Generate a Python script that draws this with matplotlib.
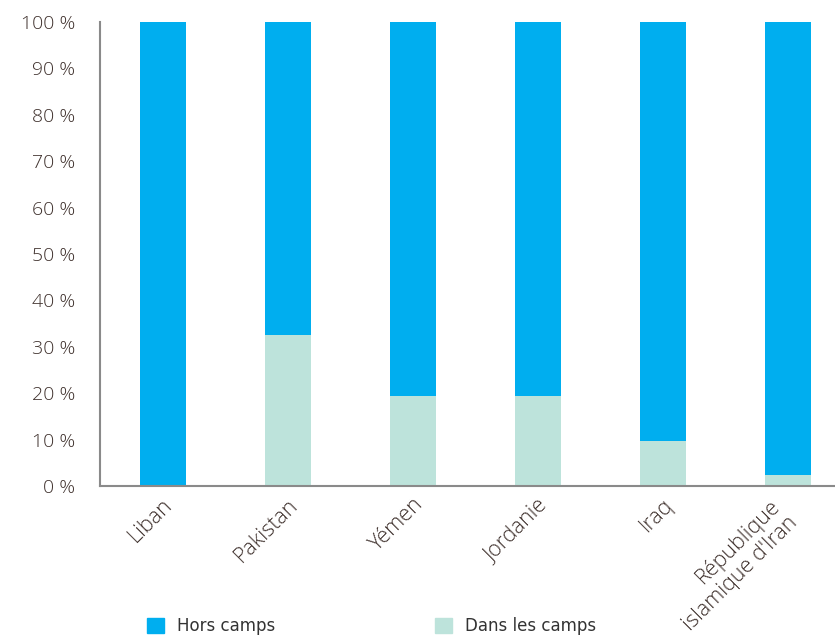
import matplotlib
matplotlib.use("Agg")
import matplotlib.pyplot as plt
from matplotlib.patches import Patch
from matplotlib.transforms import ScaledTranslation

# Répartition des réfugiés : dans les camps / hors camps (en %)
pays = ["Liban", "Pakistan", "Yémen", "Jordanie", "Iraq",
        "République\nislamique d'Iran"]
dans_camps = [0, 32.5, 19.5, 19.5, 9.7, 2.4]
hors_camps = [100 - v for v in dans_camps]
yticks = list(range(0, 101, 10))

bleu = "#00AEEF"
vert = "#BDE3DB"
texte = "#3e302c"

fig = plt.figure(figsize=(8.35, 6.44), dpi=100)
ax = fig.add_axes([0.1198, 0.2453, 0.8802, 0.7205])

x = range(len(pays))
ax.bar(x, dans_camps, width=0.37, color=vert, label="Dans les camps")
ax.bar(x, hors_camps, width=0.37, bottom=dans_camps, color=bleu,
       label="Hors camps")

ax.set_xlim(-0.504, 5.376)
ax.set_ylim(0, 100)
ax.set_yticks(yticks)
ax.set_yticklabels([f"{t} %" for t in yticks], fontsize=14, color=texte,
                   family="Open Sans", fontweight="light")
ax.set_xticks(list(x))
ax.set_xticklabels(pays, rotation=45, ha="right", va="top", fontsize=15.5,
                   color=texte, family="Open Sans", fontweight="light",
                   multialignment="right")
ax.tick_params(axis="y", length=0, pad=18)
ax.tick_params(axis="x", length=0, pad=6)

# petit décalage vers la droite des étiquettes de pays
off = ScaledTranslation(14 / 100, 0, fig.dpi_scale_trans)
for lbl in ax.get_xticklabels():
    lbl.set_transform(lbl.get_transform() + off)

for s in ["top", "right"]:
    ax.spines[s].set_visible(False)
for s in ["left", "bottom"]:
    ax.spines[s].set_color("#8a8a8a")
    ax.spines[s].set_linewidth(1.5)

handles = [Patch(color=bleu), Patch(color=vert)]
fig.legend(handles, ["Hors camps", "Dans les camps"], ncol=2,
           loc="center left", bbox_to_anchor=(0.158, 0.028), frameon=False,
           fontsize=12, handlelength=1.0, handleheight=1.0,
           columnspacing=9.6, labelcolor="#333333")

fig.savefig("out.png", dpi=100)
